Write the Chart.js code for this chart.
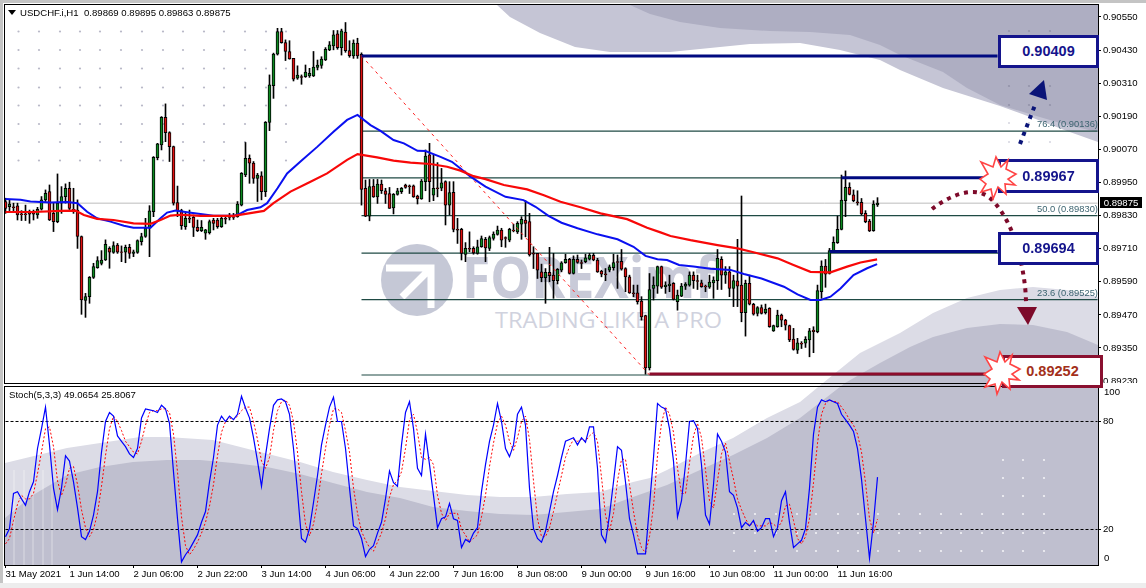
<!DOCTYPE html>
<html>
<head>
<meta charset="utf-8">
<title>USDCHF.i,H1</title>
<script src="https://cdn.jsdelivr.net/npm/chart.js@4"></script>
<style>
  html, body { margin: 0; padding: 0; background: #fff; }
  #page { position: relative; width: 1146px; height: 588px; overflow: hidden; background: #fff; font-family: "Liberation Sans", sans-serif; }
  #page > * { position: absolute; }
  canvas { display: block; }
  .edge { background: #c4c4c4; }
  .frame { border: 1px solid #000; box-sizing: border-box; }
  .txt { white-space: pre; color: #000; font-size: 9.6px; line-height: 12px; }
  .box { box-sizing: border-box; background: #fff; border: 3px solid #14148c; color: #14148c; font: bold 14.5px "Liberation Sans", sans-serif; text-align: center; }
  .fib { white-space: pre; font-size: 9.4px; line-height: 12px; color: #3c6470; }
</style>
</head>
<body>
<div id="page">
  <div class="edge" style="left:0;top:0;width:1146px;height:3px"></div>
  <div class="edge" style="left:0;top:0;width:3px;height:588px"></div>
  <div class="edge" style="left:0;top:583px;width:1146px;height:5px;background:#ededed"></div>
  <svg id="back" width="1146" height="588" style="left:0;top:0"></svg>
  <canvas id="priceChart" width="1142" height="378" style="left:4px;top:5px;width:1142px;height:378px"></canvas>
  <canvas id="stochChart" width="1142" height="202" style="left:4px;top:386px;width:1142px;height:202px"></canvas>
  <div class="frame" style="left:4px;top:4px;width:1095px;height:380px"></div>
  <div class="frame" style="left:4px;top:386px;width:1095px;height:180px"></div>
  <svg id="arrows" width="1146" height="588" style="left:0;top:0"></svg>

  <div class="box" style="left:998px;top:35px;width:101px;height:33px;line-height:27px">0.90409</div>
  <div class="box" style="left:998px;top:159px;width:101px;height:34px;line-height:28px">0.89967</div>
  <div class="box" style="left:998px;top:232px;width:101px;height:33px;line-height:27px">0.89694</div>
  <div class="box" style="left:1002px;top:355px;width:101px;height:33px;line-height:27px;border-color:#8a1030;color:#a3301a">0.89252</div>
  <svg id="stars" width="1146" height="588" style="left:0;top:0"></svg>

  <svg width="10" height="6" style="left:8px;top:10px"><polygon points="0,0 8,0 4,5" fill="#000"/></svg>
  <div class="txt" style="left:20px;top:7px">USDCHF.i,H1  0.89869 0.89895 0.89863 0.89875</div>
  <div class="txt" style="left:9px;top:389px">Stoch(5,3,3) 49.0654 25.8067</div>
  <div class="fib" style="left:1037px;top:118px">76.4 (0.90136)</div>
  <div class="fib" style="left:1037px;top:203px">50.0 (0.89830)</div>
  <div class="fib" style="left:1037px;top:287px">23.6 (0.89525)</div>
  <div class="txt" style="left:1100px;top:197px;width:42px;height:11px;background:#000;color:#fff;text-align:center;line-height:11px">0.89875</div>
  <div class="txt" style="left:1104px;top:386px">100</div>
  <div class="txt" style="left:1104px;top:552px">0</div>
</div>

<script>
// Quotes are in points (1 point = 0.00001), one entry per H1 bar
const opens = [89881,89862,89862,89865,89836,89836,89838,89838,89832,89853,89887,89917,89838,89808,89875,89899,89929,89853,89850,89754,
  89522,89536,89606,89641,89657,89669,89711,89696,89723,89699,89697,89715,89693,89696,89735,89754,89784,89844,90040,90086,
  90186,90131,90080,89877,89848,89790,89820,89824,89787,89775,89766,89768,89814,89814,89790,89820,89826,89826,89826,89868,
  89977,90038,90020,89965,89974,89917,90168,90301,90415,90497,90457,90425,90400,90328,90334,90334,90336,90336,90367,90374,
  90394,90431,90445,90489,90439,90495,90428,90409,90455,90415,89929,89828,89937,89898,89944,89920,89910,89858,89907,89917,
  89941,89938,89938,89901,89890,89953,90050,89904,89931,89929,89953,89868,89914,89780,89780,89689,89711,89711,89693,89717,
  89744,89711,89747,89762,89777,89750,89741,89777,89771,89799,89814,89808,89693,89693,89626,89605,89624,89614,89594,89632,
  89659,89671,89620,89671,89660,89663,89672,89686,89669,89629,89619,89632,89641,89663,89664,89638,89608,89550,89550,89520,
  89467,89278,89566,89574,89645,89572,89576,89584,89518,89538,89574,89578,89614,89594,89586,89574,89570,89586,89594,89671,
  89614,89626,89566,89593,89578,89478,89584,89508,89475,89496,89478,89494,89412,89427,89469,89451,89431,89382,89342,89367,
  89367,89379,89415,89409,89554,89647,89620,89703,89732,89780,89884,89932,89905,89880,89878,89838,89810,89775,89869];
const highs = [89893,89887,89875,89875,89848,89868,89850,89850,89860,89899,89923,89941,89875,89981,89935,89945,89951,89929,89887,89756,
  89548,89609,89657,89681,89703,89742,89717,89735,89729,89720,89723,89726,89705,89742,89766,89820,89866,90044,90092,90189,
  90235,90134,90082,89937,89853,89838,89850,89832,89814,89812,89780,89814,89820,89820,89824,89829,89838,89838,89881,89986,
  90095,90050,90026,89983,89989,90171,90340,90419,90509,90509,90467,90464,90400,90373,90340,90376,90364,90425,90394,90406,
  90439,90461,90501,90501,90506,90530,90464,90467,90473,90420,89959,89961,89961,89961,89959,89929,89932,89910,89929,89932,
  89944,89941,89941,89904,89961,90068,90092,90050,90022,90001,89956,89953,89953,89820,89784,89732,89771,89717,89741,89756,
  89751,89756,89771,89792,89784,89753,89784,89799,89808,89826,89884,89838,89717,89693,89654,89638,89715,89693,89638,89663,
  89690,89675,89684,89687,89669,89690,89693,89693,89675,89632,89638,89651,89690,89687,89707,89641,89614,89578,89578,89536,
  89469,89620,89608,89647,89647,89590,89614,89587,89560,89584,89587,89626,89626,89614,89596,89578,89614,89608,89707,89681,
  89645,89645,89614,89744,89901,89596,89614,89512,89500,89506,89509,89496,89433,89487,89473,89454,89433,89421,89385,89373,
  89391,89421,89427,89578,89666,89671,89711,89753,89828,89977,89992,89949,89923,89920,89892,89848,89816,89884,89895];
const lows = [89838,89848,89844,89814,89812,89812,89802,89814,89820,89850,89881,89812,89772,89804,89838,89875,89850,89838,89711,89472,
  89461,89512,89602,89639,89651,89667,89639,89693,89693,89663,89659,89675,89681,89693,89723,89751,89681,89826,90032,90068,
  90098,90026,89868,89826,89780,89780,89804,89754,89772,89772,89744,89763,89778,89784,89787,89800,89814,89816,89824,89865,
  89971,89947,89947,89881,89887,89899,90138,90255,90412,90455,90392,90397,90318,90324,90306,90331,90331,90334,90358,90364,
  90392,90428,90431,90433,90412,90422,90404,90400,90400,89868,89826,89811,89896,89874,89910,89874,89856,89836,89904,89910,
  89929,89910,89896,89872,89889,89920,89880,89884,89898,89920,89796,89832,89771,89729,89669,89663,89699,89690,89690,89715,
  89663,89703,89741,89759,89717,89715,89735,89771,89765,89744,89753,89683,89638,89602,89590,89512,89590,89530,89582,89626,
  89657,89618,89618,89657,89638,89659,89669,89666,89624,89608,89594,89626,89632,89566,89632,89554,89548,89536,89509,89451,
  89255,89270,89524,89548,89566,89548,89554,89524,89487,89536,89562,89574,89566,89562,89570,89554,89566,89530,89562,89562,
  89584,89536,89500,89500,89445,89393,89506,89469,89466,89473,89473,89425,89410,89425,89427,89415,89373,89342,89330,89348,
  89352,89318,89333,89405,89530,89570,89618,89699,89729,89778,89826,89905,89880,89868,89832,89804,89772,89773,89863];
const closes = [89856,89872,89859,89832,89833,89833,89835,89835,89853,89887,89911,89814,89808,89875,89899,89929,89856,89850,89754,89524,
  89536,89606,89645,89667,89669,89726,89697,89721,89697,89696,89715,89693,89699,89739,89754,89784,89847,90041,90090,90186,
  90131,90080,89875,89848,89793,89820,89817,89787,89775,89787,89778,89808,89802,89790,89820,89817,89823,89823,89872,89983,
  90038,90020,89965,89977,89917,90168,90304,90416,90497,90457,90425,90398,90325,90339,90331,90350,90346,90368,90376,90397,
  90433,90449,90485,90439,90500,90428,90410,90455,90409,89925,89828,89935,89898,89944,89920,89907,89856,89907,89920,89929,
  89932,89935,89898,89890,89955,90046,89953,89929,89928,89949,89868,89913,89780,89777,89693,89711,89708,89695,89717,89747,
  89713,89750,89763,89777,89741,89747,89780,89774,89802,89816,89802,89687,89690,89632,89605,89624,89612,89594,89635,89659,
  89671,89620,89671,89660,89657,89677,89687,89669,89626,89618,89616,89644,89660,89660,89636,89608,89550,89547,89518,89463,
  89278,89562,89578,89645,89570,89578,89582,89526,89542,89574,89582,89614,89594,89591,89572,89571,89589,89596,89675,89614,
  89626,89566,89594,89574,89478,89584,89509,89473,89496,89475,89491,89427,89431,89469,89451,89433,89379,89345,89369,89364,
  89381,89412,89409,89558,89647,89618,89703,89733,89780,89886,89932,89907,89884,89877,89836,89808,89774,89872,89875];

// Moving averages, read where the curve bends: bar position and value
const blueBars = [0,3.75,6.25,11.25,15.4,18,20.4,22.9,26.25,29.6,32,36.25,38.75,40.4,42.5,45.4,48.75,52,57,58.75,60.4,63.75,65.4,68,70.4,73.75,78,82,85.4,88,
  91.25,93.75,97,99.6,103,105,108.75,111.6,113.75,116.25,120,125,129.5,132.5,135.75,139,143,148,153,157,160,163,165.4,168.4,172,176.25,181.25,184.6,189,194.6,198,201.25,203.75,206.25,208.75,212,215.4,217.9];
const blueMA = [89890,89887,89881,89877,89879,89875,89844,89820,89808,89793,89786,89786,89820,89841,89848,89842,89836,89829,89829,89838,89850,89860,89875,89929,89983,90026,90080,90134,90177,90195,
  90158,90137,90104,90092,90065,90064,90043,90025,90001,89971,89935,89898,89886,89862,89829,89804,89784,89762,89744,89717,89684,89672,89669,89651,89645,89637,89633,89618,89602,89572,89544,89524,89524,89536,89566,89614,89639,89654];
const redBars = [0,7,13.75,17.5,19.6,22.9,27,32,36.25,38.75,41.25,43.75,48.75,57,64.6,67,71.25,76.25,80.4,85.4,88,
  92.9,97,101.25,106.25,110.4,113.75,117,120,124.6,130.4,134.6,138.75,143.75,148.75,155.4,160.4,163.75,166.25,171.25,178,183,187,193,197,201.25,206.25,210.4,213.75,217.9];
const redMA = [89843,89843,89847,89848,89832,89818,89814,89802,89800,89814,89830,89833,89829,89829,89847,89875,89917,89953,89983,90032,90053,
  90041,90029,90022,90017,90007,89993,89973,89962,89941,89925,89904,89880,89860,89838,89817,89786,89769,89756,89741,89723,89711,89697,89675,89651,89626,89624,89645,89660,89671];

// Stochastic(5,3,3), one entry per bar
const stochMain = [16,20.5,40,41,37,33.5,41,46.5,65,76,88,67,43,31,43,61,58,46.5,32,16,14.4,19,28,41,63,80,85,83,72,69,
  66,62,60,65,82,87,86.5,86,85,89,87,79,52,26,2,6,9,13,17,24,30,46.5,60,78,83,80,83,81,84,94,
  87.5,82,71,58,44,61,76,89,92,92.5,91,84,65,41,15,13,20.5,35,50,67,78,88,93.5,80,80,65,43,22,20.5,15,
  5,9,11,18,24,37,52.5,46,44,67,85,91,76,54,50,73,56,39,21,26,27,34.5,26,25,10,14.5,13,18,21,41,
  56,69,78,90,80,65,60.5,67,84,88,78,43,20.5,15,13,19,30,41,50,60,69,70,71,67,71,68.5,77,77,54,17,
  13,28,46.5,66,64,46.5,26,17,6.5,6.5,6.5,33.5,60,90,88,87,76,58,27,36,56,80,80.5,76,56,28,23,45,73,69,
  63,41,39,32,21,24,22,25,19,21,26,26,16,21,36,41,24,10,12,14,20.5,43,73,88,92,91,92,91,90,84,
  81,78,74.5,65,48,26,4,24,49.07];
const stochSignal = [12,15,25,34,39,37,37,40,51,63,76,77,66,47,39,45,54,55,45,31,21,16,20,29,44,61,76,83,80,75,
  69,66,63,62,69,78,85,86,86,87,87,85,73,52,27,11,6,9,13,18,24,33,45,61,74,80,82,81,83,86,
  88,88,80,70,58,54,60,75,86,91,92,89,80,63,41,23,16.5,23,35,51,65,78,87,87,85,75,63,43,29,19,
  14,10,8,13,18,26,38,45,47,52,65,81,84,74,60,59,60,56,39,29,25,29,29,29,20,17,13,15,17,27,
  39,55,68,79,83,78,69,64,71,80,83,70,47,26,16,16,21,30,40,50,60,66,70,69,70,69,72,74,69,49,
  28,19,29,47,59,59,45,30,17,10,7,16,33,61,79,88,84,74,54,40,40,57,72,79,71,53,36,32,47,62,
  68,58,48,37,31,26,22,24,22,22,22,24,23,21,24,33,34,25,15,12,16,26,46,68,84,90,92,91,91,88,
  85,81,78,73,63,46,26,18,25.81];

// Axis ticks
const priceTicks = [90550,90430,90310,90190,90070,89950,89830,89710,89590,89470,89350,89230];
const stochTicks = [80,20];
const timeTicks = [0,16,32,48,64,80,96,112,128,144,160,176,192,208];
const timeLabels = ['31 May 2021','1 Jun 14:00','2 Jun 06:00','2 Jun 22:00','3 Jun 14:00','4 Jun 06:00','4 Jun 22:00',
  '7 Jun 16:00','8 Jun 08:00','9 Jun 00:00','9 Jun 16:00','10 Jun 08:00','11 Jun 00:00','11 Jun 16:00'];

// Fibonacci and drawn levels
const lastClose = 89875;
const fibLevels = [90136,89967,89830,89694,89525,89252];
const fibStartBar = 89, axisEndBar = 273;
const trendBars = [89,161];
const trendValues = [90409,89252];
const thickBlue = [{ bars: [89,248], value: 90409 }, { bars: [209,245], value: 89967 }, { bars: [206,248], value: 89700 }];
const thickRed = { bars: [161,246], value: 89256 };

const NAVY = '#000a80', MAROON = '#8c0c2c';
const X_MIN = -0.375, X_MAX = 273.125; // 4 px a bar
const AXIS_FONT = { family: 'Liberation Sans', size: 9.6 };

function pairs(xs, ys) { return xs.map((x, i) => ({ x, y: ys[i] })); }
function segment(bars, value) { return bars.map(x => ({ x, y: value })); }
function flatLine(data, color, width, order, extra) {
  return { type: 'line', data, borderColor: color, borderWidth: width, pointRadius: 0, order, tension: 0, ...extra };
}
// no room reserved around tick labels, so the plot fills the canvas exactly
function fitY(s) { s.width = 48; s.paddingTop = 0; s.paddingBottom = 0; }
function fitX(s) { s.height = 23; s.paddingLeft = 0; s.paddingRight = 0; }

// ── Price panel ──────────────────────────────────────────────
const bars = opens.map((_, i) => i);
const priceDatasets = [
  flatLine(segment([0, axisEndBar], lastClose), '#bdbdbd', 1, 9),
  ...fibLevels.map(v => flatLine(segment([fibStartBar, axisEndBar], v), '#1f4a44', 1.2, 8)),
  {
    data: bars.map(i => ({ x: i, y: [lows[i], highs[i]] })),
    backgroundColor: '#000', barThickness: 1, borderWidth: 0, grouped: false, order: 6,
  },
  {
    data: bars.map(i => ({ x: i, y: [opens[i], closes[i]] })),
    backgroundColor: bars.map(i => closes[i] >= opens[i] ? '#0c8a20' : '#e01010'),
    borderColor: '#000', borderWidth: 1, borderSkipped: false, barThickness: 3, grouped: false, order: 5,
  },
  flatLine(pairs(trendBars, trendValues), '#ff2020', 1, 4, { borderDash: [3, 4] }),
  flatLine(pairs(blueBars, blueMA), '#0a10f0', 2, 3),
  flatLine(pairs(redBars, redMA), '#f80808', 2.2, 2),
  ...thickBlue.map(l => flatLine(segment(l.bars, l.value), NAVY, 3, 1)),
  flatLine(segment(thickRed.bars, thickRed.value), MAROON, 3, 1),
];

new Chart(document.getElementById('priceChart'), {
  type: 'bar',
  data: { datasets: priceDatasets },
  options: {
    responsive: false,
    animation: false,
    events: [],
    plugins: { legend: { display: false }, tooltip: { enabled: false } },
    layout: { padding: 0 },
    scales: {
      x: { type: 'linear', min: X_MIN, max: X_MAX, display: false, offset: false },
      y: {
        position: 'right', min: 89223, max: 90593.5,
        afterBuildTicks: s => { s.ticks = priceTicks.map(value => ({ value })); },
        afterFit: fitY,
        grid: { drawOnChartArea: false, tickLength: 3, color: '#000' },
        border: { display: false },
        ticks: { padding: 2, color: '#000', font: AXIS_FONT, autoSkip: false,
          callback: v => (v / 100000).toFixed(5) },
      },
    },
  },
});

// ── Stochastic panel ─────────────────────────────────────────
new Chart(document.getElementById('stochChart'), {
  type: 'line',
  data: {
    datasets: [
      flatLine(segment([0, axisEndBar], 80), '#000', 1, 4, { borderDash: [3, 2] }),
      flatLine(segment([0, axisEndBar], 20), '#000', 1, 4, { borderDash: [3, 2] }),
      flatLine(pairs(bars, stochSignal), '#ff0000', 1, 3, { borderDash: [2, 2] }),
      flatLine(pairs(bars, stochMain), '#0000ff', 1.2, 2),
    ],
  },
  options: {
    responsive: false,
    animation: false,
    events: [],
    plugins: { legend: { display: false }, tooltip: { enabled: false } },
    layout: { padding: 0 },
    scales: {
      x: {
        type: 'linear', min: X_MIN, max: X_MAX, offset: false,
        afterBuildTicks: s => { s.ticks = timeTicks.map(value => ({ value })); },
        afterFit: fitX,
        grid: { drawOnChartArea: false, tickLength: 3, color: '#000' },
        border: { display: false },
        ticks: { align: 'start', maxRotation: 0, autoSkip: false, padding: 1, color: '#000', font: AXIS_FONT,
          callback: (v, i) => timeLabels[i] },
      },
      y: {
        // range nudged so the 80 and 20 lines land on whole pixels
        position: 'right', min: 0.28, max: 99.72,
        afterBuildTicks: s => { s.ticks = stochTicks.map(value => ({ value })); },
        afterFit: fitY,
        grid: { drawOnChartArea: false, tickLength: 3, color: '#000' },
        border: { display: false },
        ticks: { padding: 2, color: '#000', font: AXIS_FONT, autoSkip: false },
      },
    },
  },
});

// ── Decoration behind and above the charts ───────────────────
function poly(points, fill) { return `<polygon points="${points.map(p => p.join(',')).join(' ')}" fill="${fill}"/>`; }

const waveLight = [[5,463],[67,448],[140,437],[167,437],[213,440],[260,452],[300,462],[333,472],[367,480],[400,487],[433,491],[467,495],[500,497],[533,497],[567,494],[600,492],[633,482],[650,478],[667,470],[700,453],[733,438],[767,418],[800,402],[823,383],[860,353],[900,333],[933,313],[967,298],[1000,290],[1033,287],[1067,290],[1098,297],[1098,565],[5,565]];
const waveDark = [[5,518],[33,495],[67,475],[100,467],[133,462],[167,460],[200,460],[233,463],[267,467],[300,474],[333,483],[367,492],[400,498],[433,507],[467,511],[500,514],[533,515],[567,512],[600,509],[633,497],[667,485],[700,470],[733,455],[767,438],[800,418],[845,383],[880,363],[910,347],[933,337],[967,328],[1000,324],[1033,325],[1067,332],[1098,345],[1098,565],[5,565]];
const topLight = [[497,5],[510,17],[540,33],[575,47],[610,52],[670,52],[700,49],[750,44],[800,43],[840,50],[880,60],[900,70],[943,88],[1000,106],[1033,118],[1067,131],[1098,142],[1098,5]];
const topDark = [[630,5],[650,14],[680,22],[720,28],[770,31],[810,32],[850,35],[880,45],[900,55],[943,72],[967,88],[1000,105],[1033,115],[1067,125],[1098,132],[1098,5]];

let back = poly(waveLight, '#dcdce6') + poly(waveDark, '#bfbfcf') + poly(topLight, '#c5c5d5') + poly(topDark, '#aeaec2');

// light streaks at the left of the stochastic panel
[14,24,33,43,52].forEach(x => { back += `<line x1="${x}" y1="470" x2="${x}" y2="565" stroke="#fff" stroke-opacity=".45"/>`; });

// faint dot grids
const dot = (x, y, c) => `<circle cx="${x}" cy="${y}" r="1.1" fill="${c}"/>`;
[31.5,50,68.5,87.5,105.5,124,142,160.5].forEach(y => {
  [18.5,39,60,80,100,121,142,163,183,204,224,245,266,286].forEach(x => { back += dot(x, y, '#b9b9c8'); });
});
[31,86,105,123,142].forEach(y => {
  [1009,1029,1050].forEach(x => { back += dot(x, y, y < 110 ? '#9494aa' : '#d8d8e2'); });
});
[514,533,551].forEach(y => {
  [734,755,776,797,816,838,858,878,899,920,941,961,982,1003,1023,1044].forEach(x => { back += dot(x, y, '#f2f2f6'); });
});
[460,478,496].forEach(y => {
  [1003,1023,1044].forEach(x => { back += dot(x, y, '#f2f2f6'); });
});

// watermark
back += `<circle cx="417" cy="280" r="36" fill="#c5c8d6"/>
  <path d="M386 268 H431 V308 M429 270 L402 297" fill="none" stroke="#fff" stroke-width="7"/>
  <text x="462" y="298" font-family="Open Sans" font-weight="700" font-size="58" fill="#c8cad8" textLength="253" lengthAdjust="spacingAndGlyphs">FOREXimf</text>
  <text x="495" y="328" font-family="Open Sans" font-size="22" fill="#d0d2de" textLength="227" lengthAdjust="spacingAndGlyphs">TRADING LIKE A PRO</text>`;
document.getElementById('back').innerHTML = back;

document.getElementById('arrows').innerHTML = `
  <path d="M1020 144 L1035 105" fill="none" stroke="#0a1478" stroke-width="4" stroke-dasharray="4 5"/>
  <polygon points="1044,80 1029,94 1047,100" fill="#0a1478"/>
  <path d="M932 209 C950 195 975 185 990 198 C1005 212 1015 235 1020 258 C1024 275 1026 290 1026 304" fill="none" stroke="#7d0a2a" stroke-width="4" stroke-dasharray="4 5"/>
  <polygon points="1017,307 1037,307 1028,325" fill="#7d0a2a"/>`;

const burst = [[-17,-15],[-5,-10],[-2,-20],[3,-10],[10,-17],[8,-8],[18,-3],[10,2],[17,8],[7,7],[8,17],[0,10],[-5,22],[-7,12],[-17,15],[-12,7],[-18,2],[-10,-3]];
const star = (cx, cy) => `<polygon points="${burst.map(p => (cx + p[0]) + ',' + (cy + p[1])).join(' ')}" fill="#fff" stroke="#ff4444" stroke-width="1.6"/>`;
document.getElementById('stars').innerHTML = star(998, 177) + star(1002, 372);
</script>
</body>
</html>
